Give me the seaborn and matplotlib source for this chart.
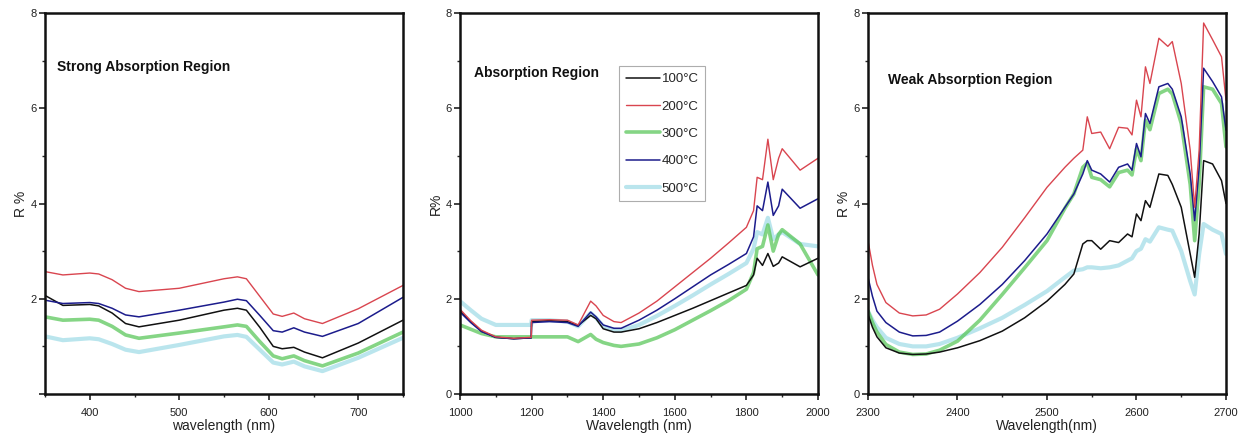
import matplotlib
matplotlib.use("Agg")
import matplotlib.pyplot as plt
import pandas as pd
import seaborn as sns
from matplotlib.ticker import MultipleLocator

sns.set_theme(style="ticks")
plt.rcParams["font.family"] = ["Liberation Sans Narrow", "Liberation Sans", "DejaVu Sans"]

temps = ["100°C", "200°C", "300°C", "400°C", "500°C"]
colors = {"100°C": "#111111", "200°C": "#d9454f", "300°C": "#5cc85c",
          "400°C": "#1c1c8c", "500°C": "#b3e3ec"}
widths = {"100°C": 1.1, "200°C": 1.0, "300°C": 2.6, "400°C": 1.1, "500°C": 3.0}
alphas = {"100°C": 1.0, "200°C": 1.0, "300°C": 0.75, "400°C": 1.0, "500°C": 0.9}
draw_order = ["500°C", "300°C", "100°C", "400°C", "200°C"]

# ---- Strong absorption region (visible) ----
wl_vis = [350, 370, 400, 410, 425, 440, 455, 500, 550, 565, 575, 590, 605, 615, 628,
          640, 660, 700, 750]
vis_100 = [2.07, 1.86, 1.88, 1.85, 1.70, 1.48, 1.41, 1.55, 1.76, 1.80, 1.76, 1.40, 1.00,
           0.95, 0.98, 0.88, 0.76, 1.07, 1.55]
vis_200 = [2.57, 2.50, 2.54, 2.52, 2.40, 2.22, 2.15, 2.22, 2.42, 2.46, 2.42, 2.05, 1.68,
           1.63, 1.70, 1.58, 1.48, 1.79, 2.28]
vis_300 = [1.62, 1.55, 1.57, 1.55, 1.42, 1.24, 1.17, 1.28, 1.41, 1.45, 1.42, 1.10, 0.80,
           0.74, 0.80, 0.70, 0.59, 0.86, 1.30]
vis_400 = [1.97, 1.90, 1.92, 1.90, 1.80, 1.66, 1.62, 1.76, 1.93, 1.99, 1.96, 1.65, 1.33,
           1.30, 1.39, 1.30, 1.21, 1.48, 2.03]
vis_500 = [1.21, 1.13, 1.17, 1.15, 1.05, 0.93, 0.88, 1.03, 1.21, 1.24, 1.20, 0.93, 0.66,
           0.62, 0.68, 0.58, 0.48, 0.76, 1.18]

# ---- Absorption region (NIR) ----
wl_nir = [1000, 1030, 1060, 1100, 1150, 1199, 1200, 1250, 1300, 1330, 1365, 1380, 1400,
          1430, 1450, 1500, 1550, 1600, 1650, 1700, 1750, 1800, 1820, 1830, 1845, 1860,
          1875, 1890, 1900, 1950, 2000]
nir_100 = [1.75, 1.52, 1.32, 1.19, 1.16, 1.18, 1.52, 1.54, 1.52, 1.44, 1.65, 1.58, 1.37,
           1.30, 1.30, 1.37, 1.50, 1.65, 1.80, 1.96, 2.12, 2.28, 2.50, 2.85, 2.70, 2.95,
           2.68, 2.75, 2.88, 2.67, 2.85]
nir_200 = [1.78, 1.54, 1.34, 1.20, 1.17, 1.19, 1.55, 1.56, 1.55, 1.45, 1.95, 1.85, 1.65,
           1.52, 1.50, 1.70, 1.95, 2.25, 2.55, 2.85, 3.17, 3.50, 3.85, 4.55, 4.50, 5.35,
           4.50, 4.95, 5.15, 4.70, 4.95]
nir_300 = [1.45, 1.36, 1.27, 1.20, 1.20, 1.20, 1.20, 1.20, 1.20, 1.10, 1.25, 1.15, 1.08,
           1.02, 1.00, 1.05, 1.18, 1.35, 1.55, 1.75, 1.96, 2.20, 2.55, 3.05, 3.10, 3.55,
           3.00, 3.35, 3.45, 3.15, 2.50]
nir_400 = [1.72, 1.50, 1.31, 1.19, 1.16, 1.18, 1.50, 1.52, 1.50, 1.42, 1.72, 1.62, 1.45,
           1.38, 1.38, 1.55, 1.76, 2.00, 2.25, 2.50, 2.72, 2.95, 3.30, 3.95, 3.85, 4.45,
           3.75, 3.95, 4.30, 3.90, 4.10]
nir_500 = [1.95, 1.76, 1.58, 1.45, 1.45, 1.45, 1.55, 1.55, 1.52, 1.42, 1.70, 1.60, 1.42,
           1.35, 1.33, 1.45, 1.64, 1.85, 2.07, 2.30, 2.52, 2.75, 3.05, 3.40, 3.35, 3.70,
           3.25, 3.35, 3.40, 3.15, 3.10]

# ---- Weak absorption region (SWIR) ----
wl_swir = [2300, 2305, 2310, 2320, 2335, 2350, 2365, 2380, 2400, 2425, 2450, 2475, 2500,
           2520, 2530, 2540, 2545, 2550, 2560, 2570, 2580, 2590, 2595, 2600, 2605, 2610,
           2615, 2625, 2635, 2640, 2650, 2660, 2665, 2670, 2675, 2685, 2695, 2700]
sw_100 = [1.67, 1.40, 1.20, 0.97, 0.86, 0.83, 0.84, 0.88, 0.97, 1.12, 1.32, 1.60, 1.95,
          2.30, 2.52, 3.15, 3.22, 3.22, 3.04, 3.22, 3.18, 3.36, 3.30, 3.78, 3.64, 4.06,
          3.92, 4.62, 4.59, 4.40, 3.92, 2.94, 2.45, 3.36, 4.90, 4.83, 4.48, 4.00]
sw_200 = [3.22, 2.70, 2.30, 1.92, 1.70, 1.64, 1.66, 1.78, 2.10, 2.55, 3.08, 3.70, 4.34,
          4.76, 4.95, 5.12, 5.82, 5.47, 5.50, 5.15, 5.60, 5.58, 5.44, 6.17, 5.82, 6.87,
          6.52, 7.47, 7.30, 7.40, 6.52, 5.12, 3.92, 5.12, 7.79, 7.44, 7.08, 6.17]
sw_300 = [1.74, 1.50, 1.30, 1.04, 0.88, 0.83, 0.84, 0.92, 1.11, 1.55, 2.09, 2.65, 3.22,
          3.90, 4.20, 4.76, 4.85, 4.55, 4.50, 4.35, 4.65, 4.70, 4.60, 5.15, 4.90, 5.75,
          5.55, 6.31, 6.40, 6.30, 5.68, 4.40, 3.22, 4.40, 6.45, 6.40, 6.10, 5.19]
sw_400 = [2.45, 2.05, 1.74, 1.50, 1.30, 1.22, 1.23, 1.30, 1.53, 1.88, 2.30, 2.80, 3.36,
          3.92, 4.20, 4.62, 4.90, 4.70, 4.62, 4.45, 4.76, 4.83, 4.70, 5.26, 4.98, 5.89,
          5.68, 6.45, 6.52, 6.40, 5.82, 4.62, 3.64, 4.76, 6.84, 6.56, 6.24, 5.54]
sw_500 = [1.74, 1.55, 1.40, 1.18, 1.05, 1.00, 1.00, 1.05, 1.18, 1.38, 1.60, 1.87, 2.16,
          2.45, 2.59, 2.62, 2.66, 2.66, 2.64, 2.66, 2.70, 2.80, 2.85, 3.00, 3.05, 3.25,
          3.20, 3.50, 3.45, 3.43, 3.00, 2.37, 2.09, 2.94, 3.57, 3.45, 3.36, 2.94]


def long_frame(wl, series):
    rows = []
    for t, vals in zip(temps, series):
        for x, y in zip(wl, vals):
            rows.append({"wavelength": x, "R": y, "T": t})
    return pd.DataFrame(rows)


panels = [
    dict(df=long_frame(wl_vis, [vis_100, vis_200, vis_300, vis_400, vis_500]),
         xlim=(350, 750), major=100, minor=50, xlabel="wavelength (nm)", ylabel="R %",
         title="Strong Absorption Region", tpos=(0.033, 0.858), left=45),
    dict(df=long_frame(wl_nir, [nir_100, nir_200, nir_300, nir_400, nir_500]),
         xlim=(1000, 2000), major=200, minor=100, xlabel="Wavelength (nm)", ylabel="R%",
         title="Absorption Region", tpos=(0.04, 0.842), left=460),
    dict(df=long_frame(wl_swir, [sw_100, sw_200, sw_300, sw_400, sw_500]),
         xlim=(2300, 2700), major=100, minor=50, xlabel="Wavelength(nm)", ylabel="R %",
         title="Weak Absorption Region", tpos=(0.056, 0.824), left=868),
]

W, H = 1247, 446
fig = plt.figure(figsize=(W / 100, H / 100), dpi=100)

for i, p in enumerate(panels):
    ax = fig.add_axes([p["left"] / W, 1 - 394 / H, 358 / W, 381 / H])
    df = p["df"]
    for t in draw_order:
        sub = df[df["T"] == t]
        sns.lineplot(data=sub, x="wavelength", y="R", ax=ax, color=colors[t],
                     linewidth=widths[t], alpha=alphas[t], label=t,
                     estimator=None, sort=False)
    ax.set_xlim(*p["xlim"])
    ax.set_ylim(0, 8)
    ax.xaxis.set_major_locator(MultipleLocator(p["major"]))
    ax.xaxis.set_minor_locator(MultipleLocator(p["minor"]))
    ax.yaxis.set_major_locator(MultipleLocator(2))
    ax.yaxis.set_minor_locator(MultipleLocator(1))
    ax.tick_params(axis="both", which="major", direction="out", length=4, width=1.2,
                   labelsize=8, pad=2, colors="#222222")
    ax.tick_params(axis="both", which="minor", direction="out", length=2.5, width=1.0)
    ax.tick_params(axis="x", which="major", pad=6)
    if i == 0:
        ax.set_yticks([0, 2, 4, 6, 8])
        ax.set_yticklabels(["", "2", "4", "6", "8"])
    ax.set_xlabel(p["xlabel"], fontsize=10, labelpad=1, color="#222222")
    ax.set_ylabel(p["ylabel"], fontsize=10, labelpad=2, color="#222222")
    for s in ax.spines.values():
        s.set_linewidth(1.8)
        s.set_color("#111111")
    ax.text(p["tpos"][0], p["tpos"][1], p["title"], transform=ax.transAxes,
            fontsize=10, fontweight="bold", va="center", ha="left", color="#111111")
    if i == 1:
        handles, labels = ax.get_legend_handles_labels()
        order = [labels.index(t) for t in temps]
        leg = ax.legend([handles[k] for k in order], [labels[k] for k in order],
                        loc="upper left", bbox_to_anchor=(0.445, 0.86), fontsize=9.5,
                        frameon=True, fancybox=False, handlelength=2.6,
                        handletextpad=0.1, labelspacing=1.15, borderpad=0.5,
                        borderaxespad=0)
        leg.get_frame().set_edgecolor("#999999")
        leg.get_frame().set_linewidth(0.8)
    else:
        ax.get_legend().remove()

fig.savefig("out.png", dpi=100)
